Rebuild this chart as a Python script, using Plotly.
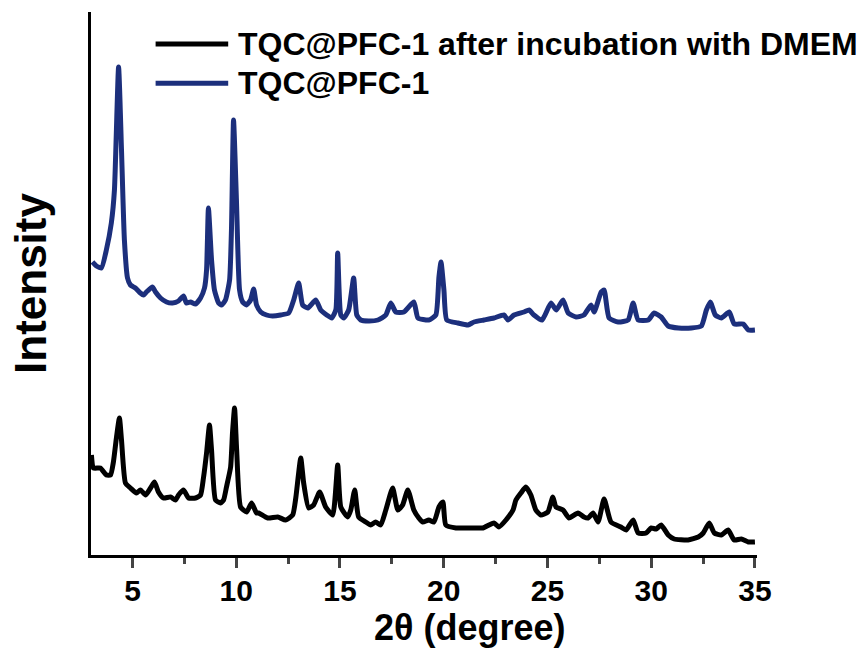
import plotly.graph_objects as go

# 2theta (degree) and intensity (a.u., stacked)
two_theta_dmem = [3.02, 3.12, 3.45, 3.74, 3.94, 4.08, 4.23, 4.37, 4.47, 4.66, 4.90, 5.19, 5.38, 5.63, 5.87,
                  6.06, 6.25, 6.49, 6.83, 7.07, 7.22, 7.46, 7.70, 8.04, 8.28, 8.42, 8.57, 8.71, 8.81, 9.00,
                  9.24, 9.39, 9.53, 9.73, 9.82, 9.92, 10.02, 10.21, 10.50, 10.74, 10.98, 11.08, 11.51, 12.00,
                  12.38, 12.72, 12.87, 13.11, 13.25, 13.49, 13.73, 14.02, 14.31, 14.65, 14.89, 15.04, 15.37,
                  15.52, 15.71, 15.90, 16.24, 16.48, 16.72, 16.96, 17.21, 17.54, 17.79, 18.02, 18.27, 18.56,
                  18.80, 18.99, 19.28, 19.53, 19.77, 19.96, 20.10, 20.59, 21.07, 21.55, 21.89, 22.42, 22.66,
                  23.00, 23.34, 23.48, 23.72, 23.96, 24.20, 24.44, 24.68, 25.02, 25.26, 25.41, 25.75, 26.04,
                  26.47, 26.76, 26.96, 27.20, 27.44, 27.73, 28.06, 28.54, 28.79, 29.13, 29.37, 29.76, 30.00,
                  30.24, 30.48, 30.82, 31.11, 31.78, 32.27, 32.51, 32.80, 33.04, 33.38, 33.71, 34.00, 34.34,
                  34.68, 35.00]
intensity_dmem = [100, 87, 87, 80, 80, 93, 118, 137, 115, 72, 67, 62, 65, 60, 67,
                  73, 63, 57, 58, 55, 60, 65, 57, 57, 60, 77, 102, 130, 105, 55,
                  52, 55, 68, 88, 122, 147, 105, 48, 43, 52, 42, 42, 37, 38,
                  35, 40, 57, 97, 72, 47, 50, 63, 48, 40, 90, 48, 38,
                  45, 65, 38, 33, 30, 33, 30, 45, 67, 45, 50, 65, 45,
                  37, 33, 35, 33, 48, 53, 30, 27, 27, 27, 27, 32, 28,
                  35, 45, 55, 62, 68, 60, 45, 40, 43, 58, 48, 45, 37,
                  42, 38, 37, 42, 33, 56, 33, 28, 25, 35, 22, 22, 27,
                  26, 30, 20, 16, 15, 18, 22, 32, 22, 20, 25, 15, 16,
                  13, 13]

two_theta_pfc = [3.07, 3.26, 3.50, 3.74, 3.98, 4.13, 4.33, 4.47, 4.61, 4.76, 4.90, 5.14, 5.38, 5.53, 5.67,
                 5.96, 6.11, 6.35, 6.64, 6.93, 7.22, 7.46, 7.60, 7.80, 8.04, 8.28, 8.47, 8.57, 8.66, 8.81,
                 8.95, 9.15, 9.29, 9.48, 9.68, 9.77, 9.87, 10.01, 10.16, 10.31, 10.50, 10.69, 10.84, 10.98,
                 11.18, 11.46, 11.75, 12.14, 12.53, 12.77, 13.01, 13.20, 13.45, 13.83, 14.07, 14.36, 14.60,
                 14.80, 14.89, 15.04, 15.18, 15.42, 15.66, 15.81, 16.00, 16.39, 16.83, 17.21, 17.45, 17.69,
                 18.08, 18.56, 18.76, 19.28, 19.62, 19.77, 19.87, 20.01, 20.15, 20.68, 21.17, 21.46, 21.94,
                 22.42, 22.90, 23.10, 23.39, 23.87, 24.11, 24.35, 24.74, 25.17, 25.42, 25.75, 26.00, 26.38,
                 26.76, 27.10, 27.25, 27.59, 27.73, 27.97, 28.41, 28.89, 29.13, 29.37, 29.86, 30.14, 30.48,
                 30.82, 31.31, 31.94, 32.42, 32.66, 32.85, 33.09, 33.38, 33.76, 34.00, 34.44, 34.68, 35.00]
intensity_pfc = [293, 289, 287, 305, 332, 365, 488, 405, 315, 277, 270, 267, 262, 260, 263,
                 268, 263, 257, 253, 252, 254, 259, 252, 253, 251, 257, 267, 285, 347, 295,
                 265, 252, 250, 255, 275, 325, 435, 355, 265, 253, 250, 255, 266, 250,
                 243, 240, 239, 240, 242, 255, 272, 250, 247, 255, 245, 240, 237,
                 245, 302, 240, 237, 245, 277, 240, 235, 234, 235, 240, 252, 243,
                 243, 253, 237, 235, 240, 278, 293, 265, 235, 232, 230, 233, 235,
                 237, 240, 235, 240, 243, 245, 240, 235, 252, 245, 255, 242, 238,
                 240, 250, 243, 263, 265, 237, 233, 235, 252, 235, 235, 242, 238,
                 229, 227, 227, 229, 245, 253, 240, 237, 243, 231, 231, 225, 225]

series_names = ["TQC@PFC-1 after incubation with DMEM", "TQC@PFC-1"]
series_colors = ["#000000", "#1c2f7c"]
x_ticks = [5, 10, 15, 20, 25, 30, 35]
x_title = "2θ (degree)"
y_title = "Intensity"

FONT = "Liberation Sans, Arial, sans-serif"

fig = go.Figure()
for xs, ys, name, color in [(two_theta_dmem, intensity_dmem, series_names[0], series_colors[0]),
                            (two_theta_pfc, intensity_pfc, series_names[1], series_colors[1])]:
    fig.add_trace(go.Scatter(x=xs, y=ys, mode="lines", name=name,
                             line=dict(color=color, width=5, shape="spline", smoothing=0.5),
                             showlegend=False))

# custom legend (long line samples as in the original)
legend_rows = [0.941, 0.869]
for name, color, yy in zip(series_names, series_colors, legend_rows):
    fig.add_shape(type="line", xref="paper", yref="paper", x0=0.097, x1=0.206, y0=yy, y1=yy,
                  line=dict(color=color, width=5))
    fig.add_annotation(xref="paper", yref="paper", x=0.218, y=yy, text=name, showarrow=False,
                       xanchor="left", yanchor="middle",
                       font=dict(family=FONT, size=32, color="black", weight="bold"))

# x-axis title (placed off-centre as in the original)
fig.add_annotation(xref="paper", yref="paper", x=0.569, y=-0.134, text=x_title, showarrow=False,
                   xanchor="center", yanchor="middle",
                   font=dict(family=FONT, size=36, color="black", weight="bold"))

fig.update_layout(
    width=859, height=655,
    margin=dict(l=91, r=102, t=12, b=100),
    paper_bgcolor="white", plot_bgcolor="white",
    font=dict(family=FONT, color="black"),
    xaxis=dict(range=[3, 35.1], tickvals=x_ticks, ticks="outside", ticklen=10, tickwidth=3,
               showline=True, linewidth=3, linecolor="black", showgrid=False, zeroline=False,
               ticklabelstandoff=-3,
               tickfont=dict(family=FONT, size=30, color="black", weight="bold"),
               minor=dict(dtick=2.5, tick0=0, ticks="outside", ticklen=6, tickwidth=3, showgrid=False)),
    yaxis=dict(range=[0, 543], showticklabels=False, ticks="", showline=True, linewidth=3,
               linecolor="black", showgrid=False, zeroline=False,
               title=dict(text=y_title, standoff=28,
                          font=dict(family=FONT, size=44, color="black", weight="bold"))),
)

fig.write_html("out.html")
